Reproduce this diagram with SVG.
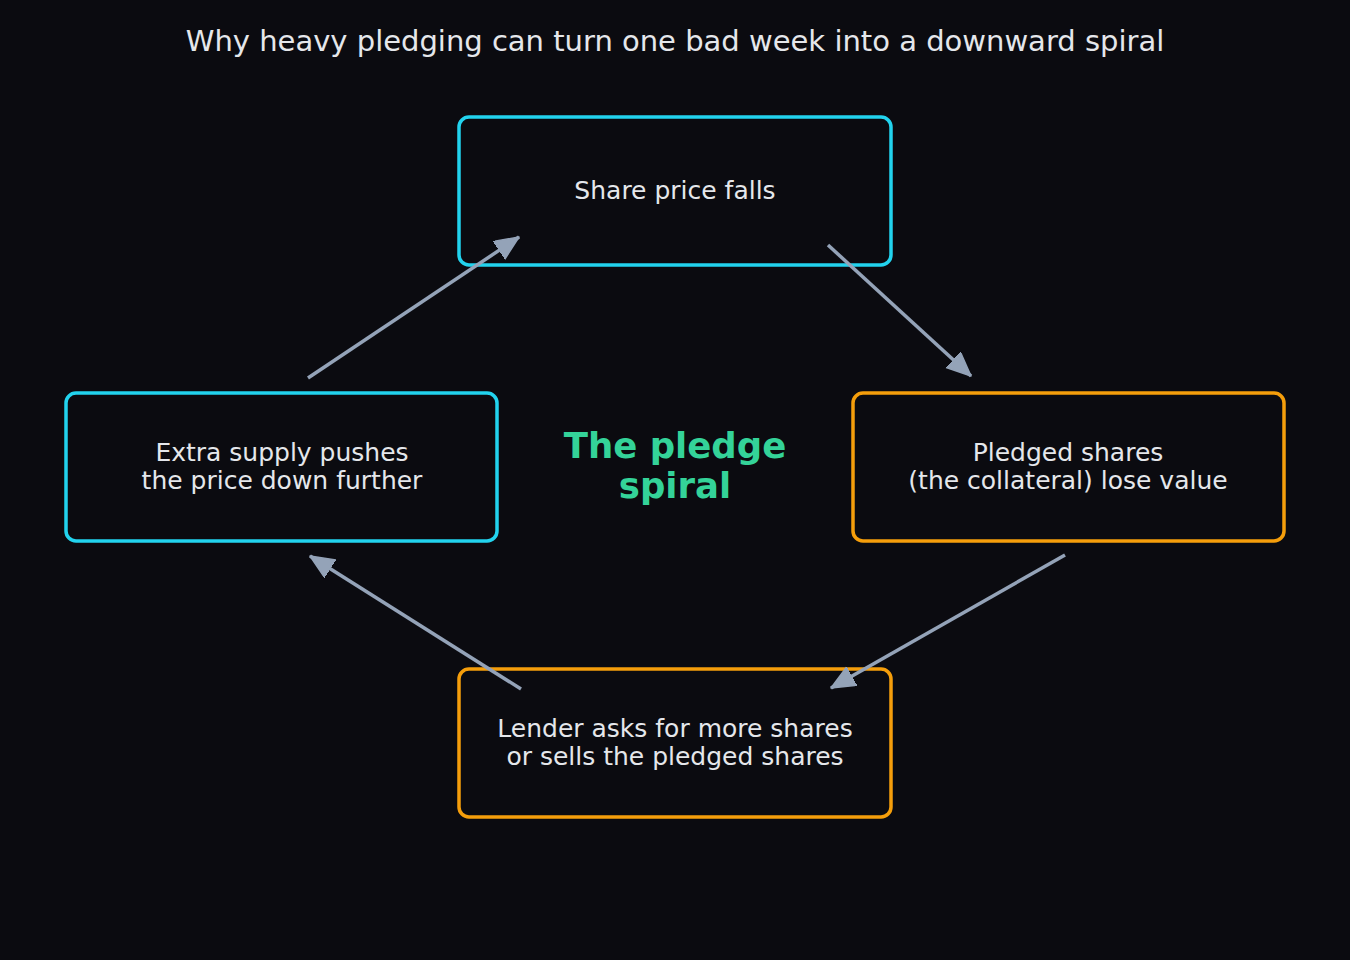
<svg xmlns="http://www.w3.org/2000/svg" width="1350" height="960" viewBox="0 0 1350 960">
<defs>
<style>
.bg{fill:#0b0b10}
.box{fill:#0b0b10;stroke-width:3.5}
.c{stroke:#22d3ee}
.o{stroke:#f59e0b}
.t{font-family:"DejaVu Sans",sans-serif;font-size:25px;fill:#e5e7eb;text-anchor:middle}
.title{font-family:"DejaVu Sans",sans-serif;font-size:29px;fill:#e5e7eb;text-anchor:middle}
.ctr{font-family:"DejaVu Sans",sans-serif;font-size:35.5px;font-weight:bold;fill:#34d399;text-anchor:middle}
.e{stroke:#94a3b8;stroke-width:3.5;fill:none;marker-end:url(#ah)}
</style>
<marker id="ah" markerUnits="userSpaceOnUse" markerWidth="26" markerHeight="24" refX="24" refY="10.5" orient="auto">
<path d="M0,0 L24,10.5 L0,21 z" fill="#94a3b8" stroke="#94a3b8" stroke-width="1.5" stroke-linejoin="round"/>
</marker>
</defs>
<rect class="bg" x="0" y="0" width="1350" height="960"/>
<text class="title" x="675" y="51">Why heavy pledging can turn one bad week into a downward spiral</text>
<g id="node-top">
<rect class="box c" x="459" y="117" width="432" height="148" rx="10"/>
<text class="t" x="675" y="199">Share price falls</text>
</g>
<g id="node-right">
<rect class="box o" x="853" y="393" width="431" height="148" rx="10"/>
<text class="t" x="1068" y="461">Pledged shares</text>
<text class="t" x="1068" y="489">(the collateral) lose value</text>
</g>
<g id="node-bottom">
<rect class="box o" x="459" y="669" width="432" height="148" rx="10"/>
<text class="t" x="675" y="737">Lender asks for more shares</text>
<text class="t" x="675" y="765">or sells the pledged shares</text>
</g>
<g id="node-left">
<rect class="box c" x="66" y="393" width="431" height="148" rx="10"/>
<text class="t" x="282" y="461">Extra supply pushes</text>
<text class="t" x="282" y="489">the price down further</text>
</g>
<g id="center">
<text class="ctr" x="675" y="458">The pledge</text>
<text class="ctr" x="675" y="498">spiral</text>
</g>
<g id="connectors">
<line class="e" x1="308" y1="378" x2="519" y2="237"/>
<line class="e" x1="828" y1="245" x2="971" y2="376"/>
<line class="e" x1="1065" y1="555" x2="831" y2="688"/>
<line class="e" x1="521" y1="689" x2="310" y2="556"/>
</g>
</svg>
